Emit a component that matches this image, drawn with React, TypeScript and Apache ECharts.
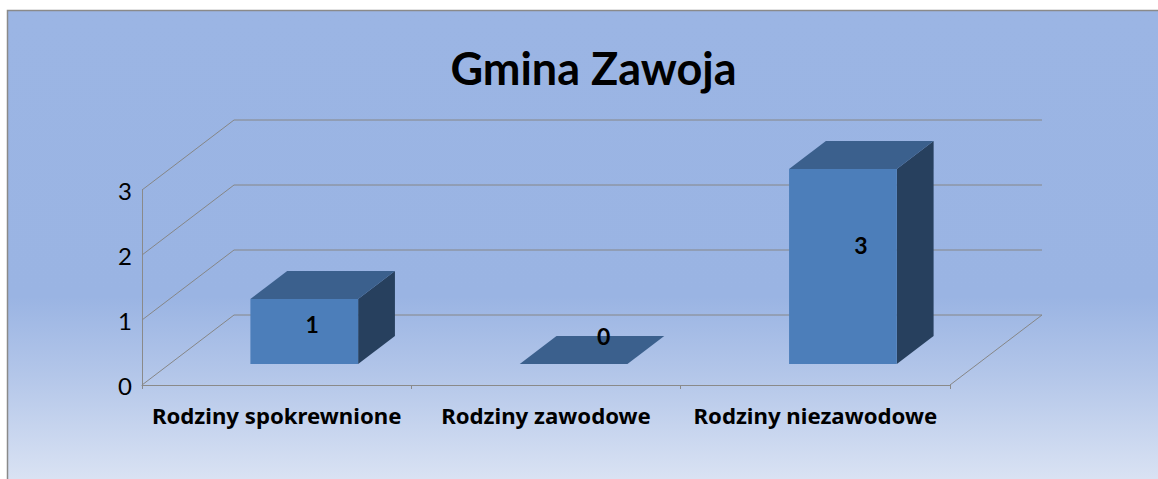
import React, { useEffect, useRef } from "react";
import * as echarts from "echarts";

const titleText = "Gmina Zawoja";
const categories = ["Rodziny spokrewnione", "Rodziny zawodowe", "Rodziny niezawodowe"];
const values = [1, 0, 3];
const yTicks = [0, 1, 2, 3];

// Layout of the pseudo-3D scene, in pixels
const WALL_DX = 92;
const WALL_DY = 70;
const BAR_SHARE = 0.4; // share of a category's width and of the floor's depth
const BAR_START = 0.3; // where in the floor's depth the bars begin
const labelOffsets = [
  [8, 25],
  [30, -28],
  [18, 76],
];
const FONT = "Lato, Carlito, Calibri, sans-serif";
const CAT_FONT = "'Noto Sans', Lato, sans-serif";

function renderWall(params: any, api: any) {
  const cs = params.coordSys;
  const p = api.coord([0, api.value(0)]);
  const y = p[1];
  const left = cs.x;
  const right = cs.x + cs.width;
  const lineStyle = { stroke: "#868686", lineWidth: 1, fill: "none" };
  const children: any[] = [
    {
      type: "polyline",
      shape: {
        points: [
          [left, y],
          [left + WALL_DX, y - WALL_DY],
          [right + WALL_DX, y - WALL_DY],
        ],
      },
      style: lineStyle,
    },
  ];
  if (api.value(0) === 0) {
    children.push({
      type: "polyline",
      shape: {
        points: [
          [right + WALL_DX, y - WALL_DY],
          [right, y],
        ],
      },
      style: lineStyle,
    });
  }
  return { type: "group", children };
}

function renderBar(params: any, api: any) {
  const idx = api.value(0);
  const val = api.value(1);
  const base = api.coord([idx, 0]);
  const top = api.coord([idx, val]);
  const bandW = api.size([1, 0])[0];
  const w = bandW * BAR_SHARE;
  const ox = WALL_DX * BAR_START;
  const oy = WALL_DY * BAR_START;
  const dx = WALL_DX * BAR_SHARE;
  const dy = WALL_DY * BAR_SHARE;
  const x0 = base[0] - w / 2 + ox;
  const x1 = x0 + w;
  const yb = base[1] - oy;
  const yt = top[1] - oy;
  const cx = (x0 + x1) / 2;
  const off = labelOffsets[params.dataIndex];
  const children: any[] = [];
  if (val > 0) {
    children.push({
      type: "polygon",
      shape: { points: [[x1, yb], [x1 + dx, yb - dy], [x1 + dx, yt - dy], [x1, yt]] },
      style: { fill: "#27405E" },
    });
    children.push({
      type: "rect",
      shape: { x: x0, y: yt, width: w, height: yb - yt },
      style: { fill: "#4C7EBA" },
    });
  }
  children.push({
    type: "polygon",
    shape: { points: [[x0, yt], [x1, yt], [x1 + dx, yt - dy], [x0 + dx, yt - dy]] },
    style: { fill: "#3B608D" },
  });
  children.push({
    type: "text",
    x: cx + off[0],
    y: yt + off[1],
    style: {
      text: String(val),
      font: `bold 23px ${FONT}`,
      fill: "#000000",
      align: "center",
      verticalAlign: "middle",
    },
  });
  return { type: "group", children };
}

export default function App() {
  const ref = useRef<HTMLDivElement>(null);
  useEffect(() => {
    const chart = echarts.init(ref.current!, undefined, { renderer: "svg" });
    chart.setOption({
      animation: false,
      backgroundColor: "#ffffff",
      title: {
        text: titleText,
        left: 588.5,
        top: 40,
        textAlign: "center",
        textStyle: { fontFamily: FONT, fontWeight: "bold", fontSize: 45, color: "#000000" },
      },
      graphic: [
        {
          type: "rect",
          z: -10,
          silent: true,
          shape: { x: 7.5, y: 10.5, width: 1200, height: 520 },
          style: {
            stroke: "#8a8a8a",
            lineWidth: 1.5,
            fill: {
              type: "linear",
              x: 0,
              y: 0,
              x2: 0,
              y2: 1,
              global: false,
              colorStops: [
                { offset: 0, color: "#9BB5E4" },
                { offset: 0.55, color: "#9AB4E3" },
                { offset: 0.7, color: "#B3C6E9" },
                { offset: 0.9, color: "#D9E2F3" },
                { offset: 1, color: "#E4EAF6" },
              ],
            },
          },
        },
      ],
      grid: { left: 142, right: 208, top: 190, bottom: 94 },
      xAxis: {
        type: "category",
        data: categories,
        axisLine: { show: true, lineStyle: { color: "#8a8a8a", width: 1 } },
        axisTick: { show: true, length: 4, lineStyle: { color: "#8a8a8a" } },
        axisLabel: {
          interval: 0,
          margin: 19,
          fontFamily: CAT_FONT,
          fontWeight: "bold",
          fontSize: 22.2,
          color: "#000000",
        },
      },
      yAxis: {
        type: "value",
        min: 0,
        max: 3,
        interval: 1,
        axisLine: { show: true, lineStyle: { color: "#8a8a8a", width: 1 } },
        axisTick: { show: false },
        splitLine: { show: false },
        axisLabel: {
          margin: 10,
          fontFamily: FONT,
          fontSize: 24,
          color: "#000000",
          formatter: (v: number) => String(v),
        },
      },
      series: [
        {
          type: "custom",
          renderItem: renderWall,
          data: yTicks.map((t) => [t]),
          encode: { y: 0 },
          clip: false,
          silent: true,
          z: 1,
        },
        {
          type: "custom",
          renderItem: renderBar,
          data: values.map((v, i) => [i, v]),
          encode: { x: 0, y: 1 },
          clip: false,
          silent: true,
          z: 2,
        },
      ],
    });
    return () => chart.dispose();
  }, []);
  return (
    <div
      ref={ref}
      style={{ position: "absolute", left: 0, top: 0, width: 1158, height: 479 }}
    />
  );
}
